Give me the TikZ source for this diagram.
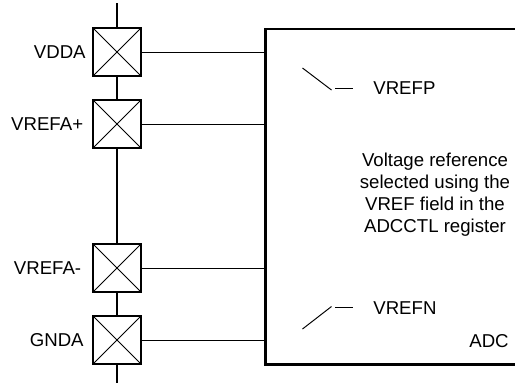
\documentclass[tikz,border=0pt]{standalone}
\usepackage{fontspec}
\setmainfont{Liberation Sans}
\usetikzlibrary{positioning}

\begin{document}
\begin{tikzpicture}[
  x=0.02cm, y=-0.02cm, font=\fontsize{10.6}{12.6}\selectfont, line join=miter,
  pad/.style = {draw,fill=white,minimum size=0.96cm,inner sep=0pt,line width=0.7pt,
    path picture={\draw[line width=0.5pt] (path picture bounding box.north west) -- (path picture bounding box.south east)
      (path picture bounding box.north east) -- (path picture bounding box.south west);}},
  bus/.style = {line width=1.5pt},
  wire/.style = {line width=0.55pt},
  txt/.style = {inner sep=0pt,anchor=west}
  ]
  \useasboundingbox (0,0) rectangle (515,387);
  % bus and pads
  \coordinate (@top) at (117,3);
  \coordinate (@bot) at (117,383);
  \draw[bus] (@top) -- (@bot);
  \node[pad] (@vdda) at (117,52) {};
  \node[pad] (@refp) at (117,124) {};
  \node[pad] (@refn) at (117,268) {};
  \node[pad] (@gnda) at (117,340) {};
  \node[inner sep=0pt,anchor=east] (@l1) at (86,52) {VDDA};
  \node[inner sep=0pt,anchor=east] (@l2) at (83.5,124) {VREFA+};
  \node[inner sep=0pt,anchor=east] (@l3) at (81.5,268) {VREFA-};
  \node[inner sep=0pt,anchor=east] (@l4) at (84,340) {GNDA};
  % ADC block, open on the right
  \coordinate (@tr) at (515,29);
  \coordinate (@tl) at (265.5,29);
  \coordinate (@bl) at (265.5,364.5);
  \coordinate (@br) at (515,364.5);
  \draw[bus] (@tr) -- (@tl) -- (@bl) -- (@br);
  \draw[wire] (@vdda) -- (@vdda -| @tl);
  \draw[wire] (@refp) -- (@refp -| @tl);
  \draw[wire] (@refn) -- (@refn -| @tl);
  \draw[wire] (@gnda) -- (@gnda -| @tl);
  % switches
  \coordinate (@p1) at (302.5,68);
  \coordinate (@p2) at (331.5,90);
  \coordinate (@p3) at (335,88.5);
  \coordinate (@p4) at (353,88.5);
  \coordinate (@n1) at (302.5,329);
  \coordinate (@n2) at (331.5,306.5);
  \coordinate (@n3) at (335,307.5);
  \coordinate (@n4) at (353,307.5);
  \draw[wire] (@p1) -- (@p2);
  \draw[wire] (@p3) -- (@p4);
  \draw[wire] (@n1) -- (@n2);
  \draw[wire] (@n3) -- (@n4);
  \node[txt] (@vrefp) at (373,88) {VREFP};
  \node[txt] (@vrefn) at (373,308) {VREFN};
  \node[inner sep=0pt,anchor=east] (@adc) at (509,341) {ADC};
  \node[inner sep=0pt,align=center] (@note) at (435,194.5) {Voltage reference\\selected using the\\VREF field in the\\ADCCTL register};
\end{tikzpicture}
\end{document}
